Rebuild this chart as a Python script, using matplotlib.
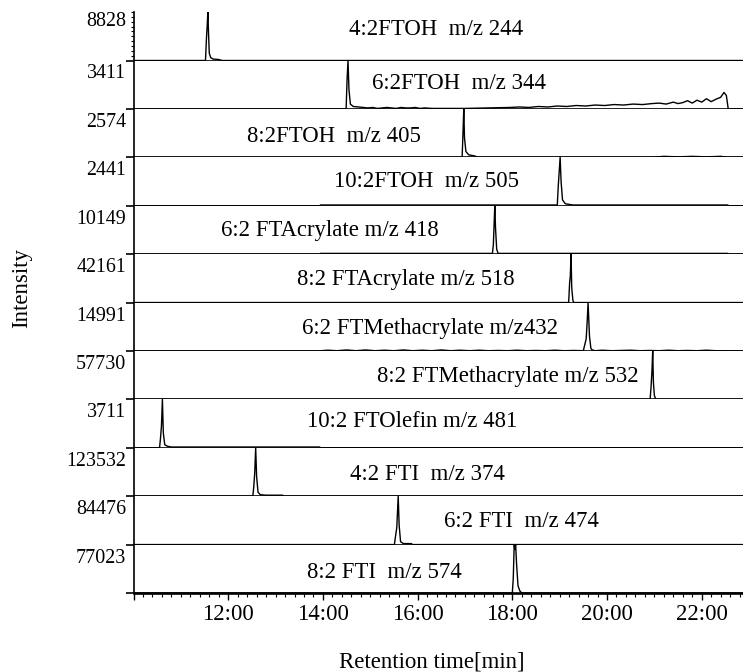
import numpy as np
import matplotlib
matplotlib.use("Agg")
import matplotlib.pyplot as plt
from matplotlib.ticker import MultipleLocator, FuncFormatter

plt.rcParams['font.family'] = ['Liberation Serif', 'DejaVu Serif']

# panel titles and the full-scale intensity of each trace
labels = ["4:2FTOH  m/z 244", "6:2FTOH  m/z 344", "8:2FTOH  m/z 405",
          "10:2FTOH  m/z 505", "6:2 FTAcrylate m/z 418", "8:2 FTAcrylate m/z 518",
          "6:2 FTMethacrylate m/z432", "8:2 FTMethacrylate m/z 532",
          "10:2 FTOlefin m/z 481", "4:2 FTI  m/z 374", "6:2 FTI  m/z 474",
          "8:2 FTI  m/z 574"]
max_intensity = [8828, 3411, 2574, 2441, 10149, 42161, 14991, 57730,
                 3711, 123532, 84476, 77023]

# retention time [min] and relative intensity [% of full scale]
times = [
    [10.0, 11.52, 11.54, 11.555, 11.57, 11.585, 11.60, 11.63, 11.68, 11.80, 11.87, 22.9],
    [10.0, 14.49, 14.51, 14.53, 14.55, 14.58, 14.64, 14.75, 14.85, 14.95, 15.05, 15.15,
     15.25, 15.35, 15.45, 15.55, 15.65, 15.75, 15.85, 15.95, 16.05, 16.15, 16.3, 17.0,
     17.95, 18.15, 18.35, 18.55, 18.75, 18.95, 19.15, 19.35, 19.55, 19.75, 19.95, 20.15,
     20.35, 20.55, 20.75, 20.95, 21.1, 21.25, 21.4, 21.5, 21.6, 21.7, 21.8, 21.9, 22.0,
     22.1, 22.2, 22.3, 22.4, 22.47, 22.52, 22.56, 22.9],
    [10.0, 16.94, 16.96, 16.975, 16.99, 17.02, 17.08, 17.20, 17.27, 20.95, 21.2, 21.5,
     21.8, 22.1, 22.4, 22.55, 22.9],
    [10.0, 13.93, 13.95, 18.95, 18.97, 18.99, 19.01, 19.03, 19.06, 19.12, 19.28, 22.55,
     22.57, 22.9],
    [10.0, 13.93, 13.95, 17.58, 17.60, 17.615, 17.63, 17.645, 17.67, 17.70, 22.55, 22.57, 22.9],
    [10.0, 19.19, 19.21, 19.225, 19.24, 19.255, 19.28, 19.30, 22.9],
    [10.0, 13.9, 14.1, 14.3, 14.5, 14.7, 14.9, 15.1, 15.3, 15.5, 15.7, 15.9, 16.1, 16.3,
     16.5, 16.7, 16.9, 17.1, 17.3, 17.5, 17.7, 17.9, 18.1, 18.3, 18.5, 18.7, 18.9, 19.1,
     19.3, 19.5, 19.56, 19.58, 19.60, 19.63, 19.66, 19.69, 19.75, 19.9, 20.1, 20.3, 20.5,
     20.7, 20.9, 21.1, 21.3, 21.5, 21.7, 21.9, 22.1, 22.3, 22.9],
    [10.0, 20.91, 20.93, 20.95, 20.965, 20.98, 21.00, 21.03, 22.9],
    [10.0, 10.55, 10.57, 10.59, 10.61, 10.63, 10.66, 10.72, 10.80, 13.93, 13.95, 22.9],
    [10.0, 12.52, 12.54, 12.56, 12.58, 12.60, 12.63, 12.68, 12.80, 13.15, 13.17, 22.9],
    [10.0, 15.51, 15.53, 15.56, 15.59, 15.61, 15.64, 15.70, 15.87, 15.89, 22.9],
    [10.0, 18.00, 18.02, 18.04, 18.055, 18.07, 18.09, 18.12, 18.16, 18.20, 22.9],
]
rel = [
    [0, 0, 45, 70, 100, 55, 15, 6, 3, 2, 0, 0],
    [0, 0, 60, 100, 40, 10, 5, 4, 3, 2, 3, 1, 2, 3, 2, 1, 3, 2, 2, 3, 1, 2, 1, 1,
     3, 4, 3, 5, 4, 6, 5, 7, 6, 8, 7, 9, 8, 10, 9, 11, 12, 10, 14, 11, 13, 17, 12, 18, 14,
     21, 15, 20, 24, 34, 28, 0, 0],
    [0, 0, 55, 100, 40, 12, 5, 3, 0, 0, 2, 1, 2, 1, 2, 0, 0],
    [0, 0, 1.5, 1.5, 40, 70, 100, 50, 12, 4, 1.5, 1.5, 0, 0],
    [0, 0, 1.5, 1.5, 20, 60, 100, 55, 10, 1.5, 1.5, 0, 0],
    [0, 0, 40, 55, 100, 30, 4, 0, 0],
    [0, 0, 1.5, 0.5, 2, 0.5, 2, 0.5, 1.5, 0.5, 2, 0.5, 1.5, 0.5, 2, 0.5, 1.5, 0.5, 1.5,
     0.5, 1, 0.5, 1.5, 0.5, 1, 0.5, 1.5, 0.5, 1, 0.5, 25, 58, 100, 30, 5, 2, 0.5, 1.5,
     0.5, 1, 1.5, 0.5, 1, 0.5, 1.5, 0.5, 1, 0.5, 1.5, 0.5, 0],
    [0, 0, 25, 60, 100, 35, 8, 0, 0],
    [0, 0, 20, 45, 100, 30, 6, 3, 1.5, 1.5, 0, 0],
    [0, 0, 20, 48, 100, 40, 8, 3, 2, 2, 0, 0],
    [0, 0, 15, 35, 100, 40, 6, 2, 2, 0, 0],
    [0, 0, 30, 100, 90, 100, 60, 15, 4, 0, 0],
]

# where each panel title sits: x in minutes, y as fraction of panel height (baseline)
label_x = [16.39, 16.87, 14.23, 16.18, 14.15, 15.76, 16.26, 17.91, 15.88, 16.20, 18.20, 15.29]
label_y = [0.525, 0.41, 0.314, 0.384, 0.378, 0.36, 0.347, 0.36, 0.425, 0.33, 0.366, 0.306]

fig = plt.figure(figsize=(7.43, 6.72), dpi=100)
gs = fig.add_gridspec(len(labels), 1, hspace=0, left=0.1797, right=1.0,
                      top=0.982, bottom=0.1176)
axes = [fig.add_subplot(gs[i, 0]) for i in range(len(labels))]

for i, ax in enumerate(axes):
    scale = max_intensity[i] / 100.0
    ax.plot(times[i], np.array(rel[i]) * scale, color='black', lw=1.0)
    ax.set_xlim(10, 22.872)
    ax.set_ylim(0, max_intensity[i])
    for s in ['top', 'right']:
        ax.spines[s].set_visible(False)
    ax.spines['left'].set_linewidth(1.2)
    ax.spines['bottom'].set_linewidth(1.2)
    ax.set_yticks([0])
    ax.set_yticklabels([])
    ax.tick_params(axis='y', which='major', direction='out', length=5.8, width=1.2)
    ax.text(label_x[i], label_y[i], labels[i], transform=ax.get_xaxis_transform(),
            ha='center', va='baseline', fontsize=16.4)
    dy = -7.0 if i == 0 else -9.7
    ax.annotate(str(max_intensity[i]), xy=(0, 1), xycoords='axes fraction',
                xytext=(-5.4, dy), textcoords='offset points',
                ha='right', va='center', fontsize=14.4)
    if i < len(axes) - 1:
        ax.tick_params(axis='x', which='both', bottom=False, labelbottom=False)

# small scale ticks on the first panel only
axes[0].set_yticks(np.arange(0, 101, 10) * max_intensity[0] / 100, minor=True)
axes[0].tick_params(axis='y', which='minor', direction='out', length=2.5, width=0.8)

bx = axes[-1]
bx.spines['bottom'].set_linewidth(1.9)
bx.xaxis.set_major_locator(MultipleLocator(2))
bx.xaxis.set_minor_locator(MultipleLocator(0.2))
bx.xaxis.set_major_formatter(FuncFormatter(lambda v, p: '' if v < 11 else '%d:00' % round(v)))
bx.tick_params(axis='x', which='major', direction='out', length=5, width=1.0,
               pad=3, labelsize=16.5)
bx.tick_params(axis='x', which='minor', direction='out', length=3, width=0.8)

fig.text(432 / 743, 1 - 662 / 672, 'Retention time[min]', ha='center', va='center',
         fontsize=16.5)
fig.text(22 / 743, 1 - 288 / 672, 'Intensity', ha='center', va='center',
         rotation=90, fontsize=16.5)

fig.savefig('out.png', dpi=100, facecolor='white')
